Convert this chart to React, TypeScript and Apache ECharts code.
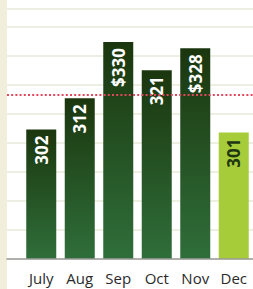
import React, { useEffect, useRef } from "react";
import * as echarts from "echarts";

const months = ["July", "Aug", "Sep", "Oct", "Nov", "Dec"];
const sales = [302, 312, 330, 321, 328, 301];
const labels = ["302", "312", "$330", "321", "$328", "301"];
const highlight = [false, false, false, false, false, true];
const referenceValue = 313.2;
const gridSteps = 8.62;

export default function App() {
  const ref = useRef<HTMLDivElement>(null);
  useEffect(() => {
    if (!ref.current) return;
    const chart = echarts.init(ref.current, undefined, { renderer: "svg" });
    const darkGrad = new echarts.graphic.LinearGradient(0, 0, 0, 1, [
      { offset: 0, color: "#1b360e" },
      { offset: 1, color: "#2f6e3a" },
    ]);
    chart.setOption({
      animation: false,
      backgroundColor: "#ffffff",
      graphic: [
        { type: "rect", left: 0, top: 0, shape: { width: 7, height: 289 }, style: { fill: "#f2eedc" }, z: -10 },
      ],
      grid: [
        { left: 22, right: -4, top: 9, bottom: 30 },
        { left: 7, right: 0, top: 9, bottom: 30 },
      ],
      xAxis: [
        {
          type: "category",
          gridIndex: 0,
          data: months,
          axisLine: { show: false },
          axisTick: { show: false },
          axisLabel: { color: "#2a2a2a", fontSize: 15, fontFamily: "Open Sans", margin: 11 },
          z: 5,
        },
        {
          type: "value",
          gridIndex: 1,
          min: 0,
          max: 1,
          axisLine: { show: true, lineStyle: { color: "#9a9a9a", width: 1.5 } },
          axisTick: { show: false },
          axisLabel: { show: false },
          splitLine: { show: false },
          z: 6,
        },
      ],
      yAxis: [
        {
          type: "value",
          gridIndex: 0,
          min: 260.5,
          max: 340.6,
          show: false,
          splitLine: { show: false },
        },
        {
          type: "value",
          gridIndex: 1,
          min: 260.5,
          max: 340.6,
          show: false,
          splitLine: { show: false },
        },
        {
          type: "value",
          gridIndex: 1,
          min: 0,
          max: gridSteps,
          interval: 1,
          axisLine: { show: false },
          axisTick: { show: false },
          axisLabel: { show: false },
          splitLine: { show: true, lineStyle: { color: "#efeee2", width: 2 } },
        },
      ],
      series: [
        {
          type: "line",
          xAxisIndex: 1,
          yAxisIndex: 1,
          data: [],
          silent: true,
          z: 4,
          markLine: {
            silent: true,
            symbol: "none",
            label: { show: false },
            lineStyle: { color: "#e0485e", type: [2, 2.2], width: 2 },
            data: [{ yAxis: referenceValue }],
          },
        },
        {
          type: "bar",
          xAxisIndex: 0,
          yAxisIndex: 0,
          barWidth: 30,
          z: 3,
          data: sales.map((v, i) => ({
            value: v,
            itemStyle: { color: highlight[i] ? "#a6cc3a" : darkGrad },
            label: {
              show: true,
              position: "insideTop",
              rotate: 90,
              align: "right",
              verticalAlign: "middle",
              distance: 6,
              formatter: labels[i],
              color: highlight[i] ? "#1d3810" : "#ffffff",
              fontSize: 17,
              fontWeight: "bold",
              fontFamily: "Open Sans",
            },
          })),
        },
      ],
    });
    return () => chart.dispose();
  }, []);
  return <div ref={ref} style={{ width: 253, height: 289, position: "absolute", left: 0, top: 0 }} />;
}
